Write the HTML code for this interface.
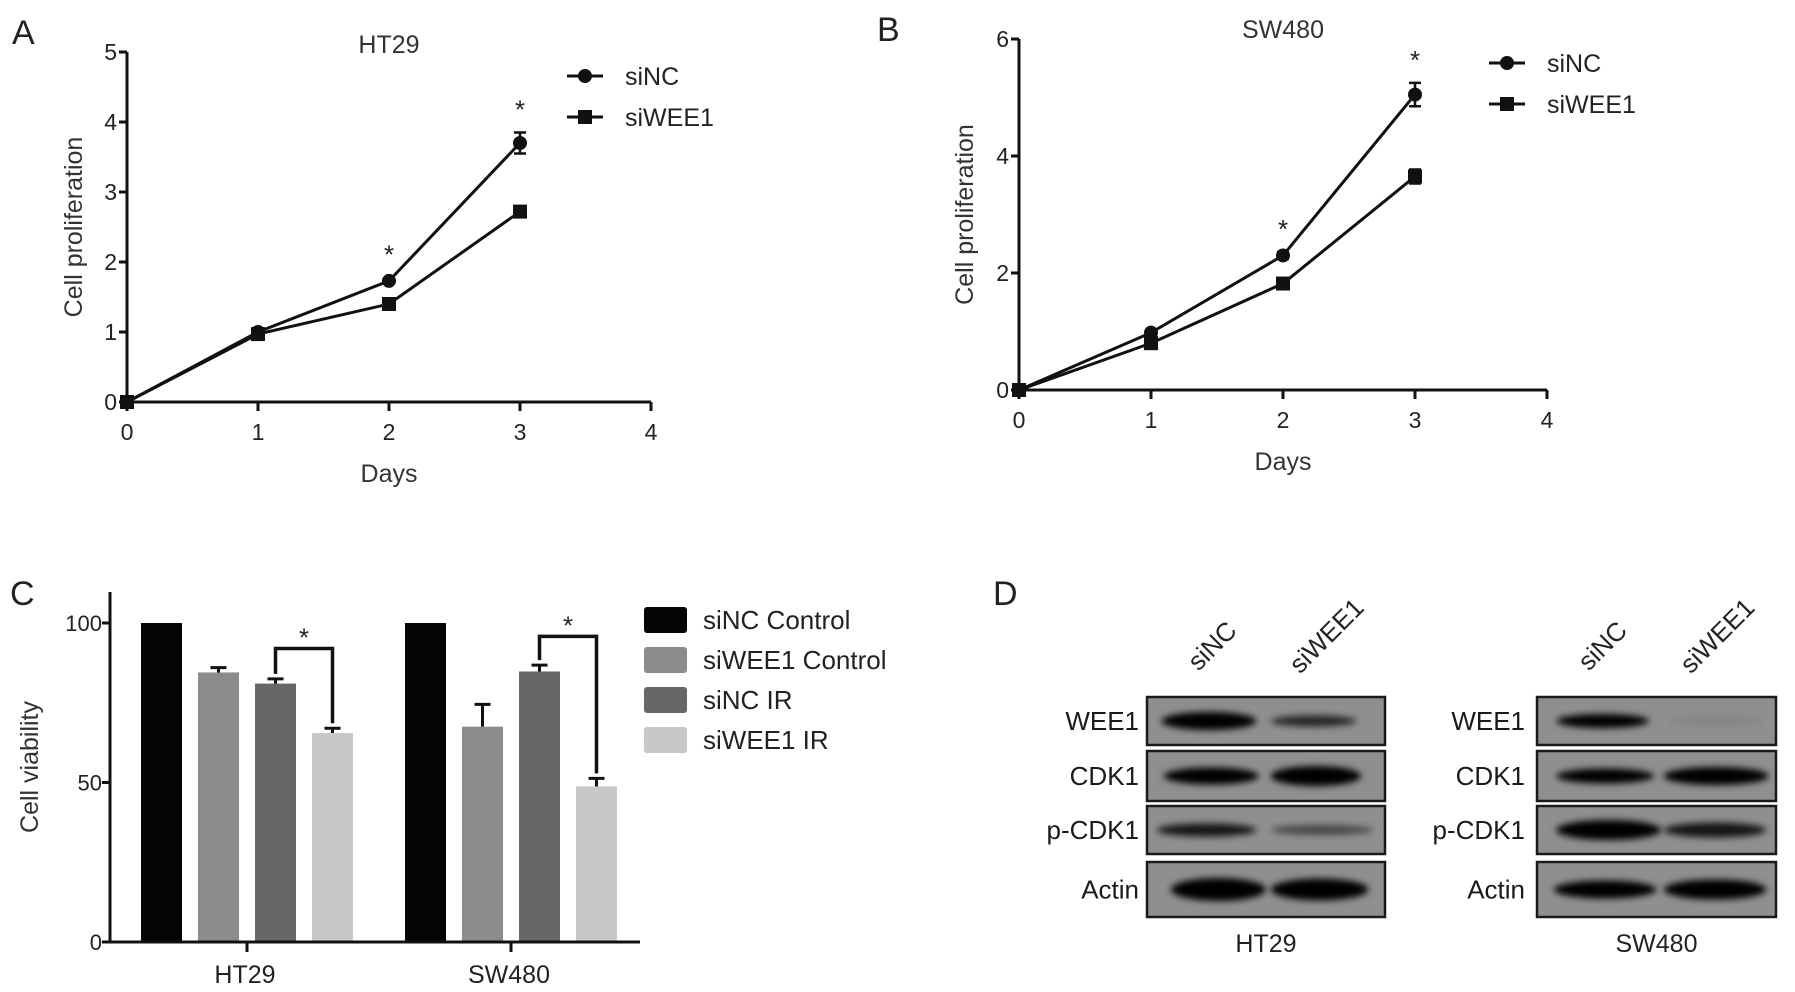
<!DOCTYPE html>
<html><head><meta charset="utf-8"><style>
html,body{margin:0;padding:0;background:#fff;}
svg{display:block;font-family:"Liberation Sans",sans-serif;}
</style></head><body>
<svg id="fig" width="1795" height="992" viewBox="0 0 1795 992">
<defs><filter id="blur" x="-20%" y="-80%" width="140%" height="260%"><feGaussianBlur stdDeviation="3.5"/></filter></defs>
<g id="pA"></g>
<g id="pB"></g>
<g id="pC"></g>
<g id="pD"></g>
</svg>
<script>
const NS='http://www.w3.org/2000/svg';
// Panel A data
const aDays=[0,1,2,3];
const aSiNC=[0,1.0,1.73,3.7];
const aSiNCErr=[0,0.04,0.05,0.15];
const aSiWEE1=[0,0.97,1.4,2.72];
const aSiWEE1Err=[0,0.04,0.05,0.06];
const aYTicks=[0,1,2,3,4,5];
const aXTicks=[0,1,2,3,4];
const aStars=[2,3];
// Panel B data
const bDays=[0,1,2,3];
const bSiNC=[0,0.98,2.3,5.05];
const bSiNCErr=[0,0.05,0.06,0.2];
const bSiWEE1=[0,0.8,1.82,3.65];
const bSiWEE1Err=[0,0.05,0.06,0.12];
const bYTicks=[0,2,4,6];
const bXTicks=[0,1,2,3,4];
const bStars=[2,3];
// Panel C data
const cGroups=['HT29','SW480'];
const cSeries=['siNC Control','siWEE1 Control','siNC IR','siWEE1 IR'];
const cHT29=[100,84.5,81,65.5];
const cSW480=[100,67.5,84.8,48.8];
const cHT29Err=[0,1.5,1.5,1.5];
const cSW480Err=[0,7,2,2.5];
const cYTicks=[0,50,100];

function el(tag,attrs,parent,text){const e=document.createElementNS(NS,tag);for(const k in attrs)e.setAttribute(k,attrs[k]);if(text!==undefined)e.textContent=text;parent.appendChild(e);return e;}

function linePanel(g,cfg){
  const X=v=>cfg.x0+(v-cfg.xmin)/(cfg.xmax-cfg.xmin)*(cfg.x1-cfg.x0);
  const Y=v=>cfg.y0-(v-cfg.ymin)/(cfg.ymax-cfg.ymin)*(cfg.y0-cfg.y1);
  let t=el('text',{x:cfg.labelX,y:cfg.labelY,'font-size':34,fill:'#222'},g,cfg.letter);
  
  t=el('text',{x:X(2),y:cfg.titleY,'font-size':25,fill:'#333','text-anchor':'middle'},g,cfg.title);
  
  let ax=el('path',{d:`M${cfg.x0},${cfg.y1}V${cfg.y0}H${cfg.x1}`,stroke:'#111','stroke-width':3,fill:'none'},g);
  
  cfg.yTicks.forEach(v=>{el('line',{x1:cfg.x0-8,x2:cfg.x0,y1:Y(v),y2:Y(v),stroke:'#111','stroke-width':3},g);
    const l=el('text',{x:cfg.x0-10,y:Y(v)+8,'font-size':23,fill:'#222','text-anchor':'end'},g,v);
    });
  cfg.xTicks.forEach(v=>{el('line',{x1:X(v),x2:X(v),y1:cfg.y0,y2:cfg.y0+9,stroke:'#111','stroke-width':3},g);
    const l=el('text',{x:X(v),y:cfg.y0+38,'font-size':23,fill:'#222','text-anchor':'middle'},g,v);
    });
  t=el('text',{x:X(2),y:cfg.daysY,'font-size':25,fill:'#333','text-anchor':'middle'},g,'Days');
  
  t=el('text',{x:0,y:0,'font-size':25,fill:'#333','text-anchor':'middle',transform:`translate(${cfg.ytX},${(cfg.y0+cfg.y1)/2}) rotate(-90)`},g,'Cell proliferation');
  
  const series=[[cfg.s1,cfg.e1,'circle','siNC'],[cfg.s2,cfg.e2,'square','siWEE1']];
  series.forEach(([vals,errs,shape,name])=>{
    const p=el('polyline',{points:cfg.days.map((d,i)=>X(d)+','+Y(vals[i])).join(' '),stroke:'#111','stroke-width':3,fill:'none'},g);
    
    cfg.days.forEach((d,i)=>{
      if(errs[i]>0.05){el('path',{d:`M${X(d)-6},${Y(vals[i]+errs[i])}H${X(d)+6}M${X(d)},${Y(vals[i]+errs[i])}V${Y(vals[i]-errs[i])}M${X(d)-6},${Y(vals[i]-errs[i])}H${X(d)+6}`,stroke:'#111','stroke-width':2.5,fill:'none'},g);}
      let m;
      if(shape==='circle')m=el('circle',{cx:X(d),cy:Y(vals[i]),r:7,fill:'#111'},g);
      else m=el('rect',{x:X(d)-7,y:Y(vals[i])-7,width:14,height:14,fill:'#111'},g);
      
    });
  });
  cfg.stars.forEach(d=>{const i=cfg.days.indexOf(d);const top=Math.max(cfg.s1[i]+cfg.e1[i],cfg.s2[i]+cfg.e2[i]);
    const s=el('text',{x:X(d),y:Y(top)-14,'font-size':26,fill:'#222','text-anchor':'middle'},g,'*');
    });
  [['siNC','circle',cfg.legY1],['siWEE1','square',cfg.legY2]].forEach(([n,sh,y])=>{
    const lg=el('g',{},g);
    el('line',{x1:cfg.legX-18,x2:cfg.legX+18,y1:y,y2:y,stroke:'#111','stroke-width':3},lg);
    if(sh==='circle')el('circle',{cx:cfg.legX,cy:y,r:7,fill:'#111'},lg);else el('rect',{x:cfg.legX-7,y:y-7,width:14,height:14,fill:'#111'},lg);
    el('text',{x:cfg.legX+40,y:y+9,'font-size':25,fill:'#222'},lg,n);
  });
}
linePanel(document.getElementById('pA'),{letter:'A',labelX:12,labelY:44,title:'HT29',titleY:53,
  x0:127,x1:651,y0:402,y1:52,xmin:0,xmax:4,ymin:0,ymax:5,yTicks:aYTicks,xTicks:aXTicks,
  days:aDays,s1:aSiNC,e1:aSiNCErr,s2:aSiWEE1,e2:aSiWEE1Err,stars:aStars,daysY:482,ytX:82,legX:585,legY1:76,legY2:117});
linePanel(document.getElementById('pB'),{letter:'B',labelX:877,labelY:41,title:'SW480',titleY:38,
  x0:1019,x1:1547,y0:390,y1:39,xmin:0,xmax:4,ymin:0,ymax:6,yTicks:bYTicks,xTicks:bXTicks,
  days:bDays,s1:bSiNC,e1:bSiNCErr,s2:bSiWEE1,e2:bSiWEE1Err,stars:bStars,daysY:470,ytX:973,legX:1507,legY1:63,legY2:104});

// Panel C
(function(){
  const g=document.getElementById('pC');
  const x0=110,x1=640,y0=942,y100=623;
  const Y=v=>y0-v/100*(y0-y100);
  const colors=['#050505','#8c8c8c','#676767','#c8c8c8'];
  const groupStart=[141,405], barStep=57, bw=41;
  let t=el('text',{x:10,y:605,'font-size':34,fill:'#222'},g,'C');
  t=el('text',{x:0,y:0,'font-size':25,fill:'#333','text-anchor':'middle',transform:`translate(38,767) rotate(-90)`},g,'Cell viability');
  
  const vals=[cHT29,cSW480],errs=[cHT29Err,cSW480Err];
  cGroups.forEach((grp,gi)=>{
    const cx=[];
    vals[gi].forEach((v,si)=>{
      const x=groupStart[gi]+si*barStep;cx.push(x+bw/2);
      const r=el('rect',{x:x,y:Y(v),width:bw,height:y0-Y(v),fill:colors[si]},g);
      
      if(errs[gi][si]>0){const e=errs[gi][si];
        el('path',{d:`M${x+bw/2},${Y(v)}V${Y(v+e)}M${x+bw/2-8},${Y(v+e)}H${x+bw/2+8}`,stroke:'#111','stroke-width':3,fill:'none'},g);}
    });
    const top=Math.max(vals[gi][2],vals[gi][3])+11;
    const b=el('path',{d:`M${cx[2]},${Y(vals[gi][2]+errs[gi][2])-5}V${Y(top)}H${cx[3]}V${Y(vals[gi][3]+errs[gi][3])-5}`,stroke:'#111','stroke-width':3.5,fill:'none'},g);
    
    const s=el('text',{x:(cx[2]+cx[3])/2,y:Y(top)-2,'font-size':26,fill:'#222','text-anchor':'middle'},g,'*');
    
    const tc=(cx[0]+cx[3])/2;
    el('line',{x1:tc,x2:tc,y1:y0,y2:y0+10,stroke:'#111','stroke-width':3},g);
    const l=el('text',{x:tc-2,y:983,'font-size':25,fill:'#222','text-anchor':'middle'},g,grp);
    
  });
  const ax=el('path',{d:`M${x0},592V${y0}H${x1}`,stroke:'#111','stroke-width':3,fill:'none'},g);
  
  cYTicks.forEach(v=>{el('line',{x1:x0-8,x2:x0,y1:Y(v),y2:Y(v),stroke:'#111','stroke-width':3},g);
    const l=el('text',{x:x0-8,y:Y(v)+8,'font-size':22,fill:'#222','text-anchor':'end'},g,v);
    });
  cSeries.forEach((n,i)=>{const y=620+i*40;
    const lg=el('g',{},g);
    el('rect',{x:644,y:y-13,width:43,height:26,rx:3,fill:colors[i]},lg);
    el('text',{x:703,y:y+9,'font-size':26,fill:'#222'},lg,n);});
})();

// Panel D (western blots)
(function(){
  const g=document.getElementById('pD');
  let t=el('text',{x:993,y:605,'font-size':34,fill:'#222'},g,'D');
  const rows=['WEE1','CDK1','p-CDK1','Actin'];
  const rowY=[[697,745],[751,801],[806,854],[862,917]];
  const blots=[{x:1147,w:238,name:'HT29',labX:1139,
      bands:[[0.06,0.46,1,14],[0.52,0.88,0.75,7],[0.07,0.47,1,13],[0.52,0.9,1,16],[0.04,0.46,0.85,9],[0.52,0.95,0.5,6],[0.1,0.5,1,19],[0.52,0.93,1,18]]},
    {x:1537,w:239,name:'SW480',labX:1525,
      bands:[[0.08,0.47,1,10],[0.55,0.95,0.08,5],[0.08,0.49,1,11],[0.53,0.97,1,14],[0.08,0.52,1,16],[0.53,0.96,0.85,11],[0.07,0.5,1,14],[0.53,0.96,1,16]]}];
  blots.forEach(b=>{
    rows.forEach((r,ri)=>{
      const [ya,yb]=rowY[ri];
      const bx=el('rect',{x:b.x,y:ya,width:b.w,height:yb-ya,fill:'#8f8f8f',stroke:'#1a1a1a','stroke-width':2.5},g);
      
      for(let k=0;k<2;k++){const bd=b.bands[ri*2+k];const cx=b.x+(bd[0]+bd[1])/2*b.w;
        const e=el('ellipse',{cx:cx,cy:(ya+yb)/2,rx:(bd[1]-bd[0])/2*b.w,ry:bd[3]/2+2,fill:'#050505',opacity:bd[2],filter:'url(#blur)'},g);
        }
      const l=el('text',{x:b.labX,y:(ya+yb)/2+9,'font-size':26,fill:'#1a1a1a','text-anchor':'end'},g,r);
      
    });
    const lanes=[['siNC',b.x+0.3*b.w],['siWEE1',b.x+0.78*b.w]];
    lanes.forEach(([n,x])=>{const l=el('text',{x:0,y:0,'font-size':26,fill:'#222','text-anchor':'middle',transform:`translate(${x},${652-(n==='siWEE1'?10:0)}) rotate(-45)`},g,n);
      });
    const c=el('text',{x:b.x+b.w/2,y:952,'font-size':25,fill:'#222','text-anchor':'middle'},g,b.name);
    
  });
})();
</script>
</body></html>
